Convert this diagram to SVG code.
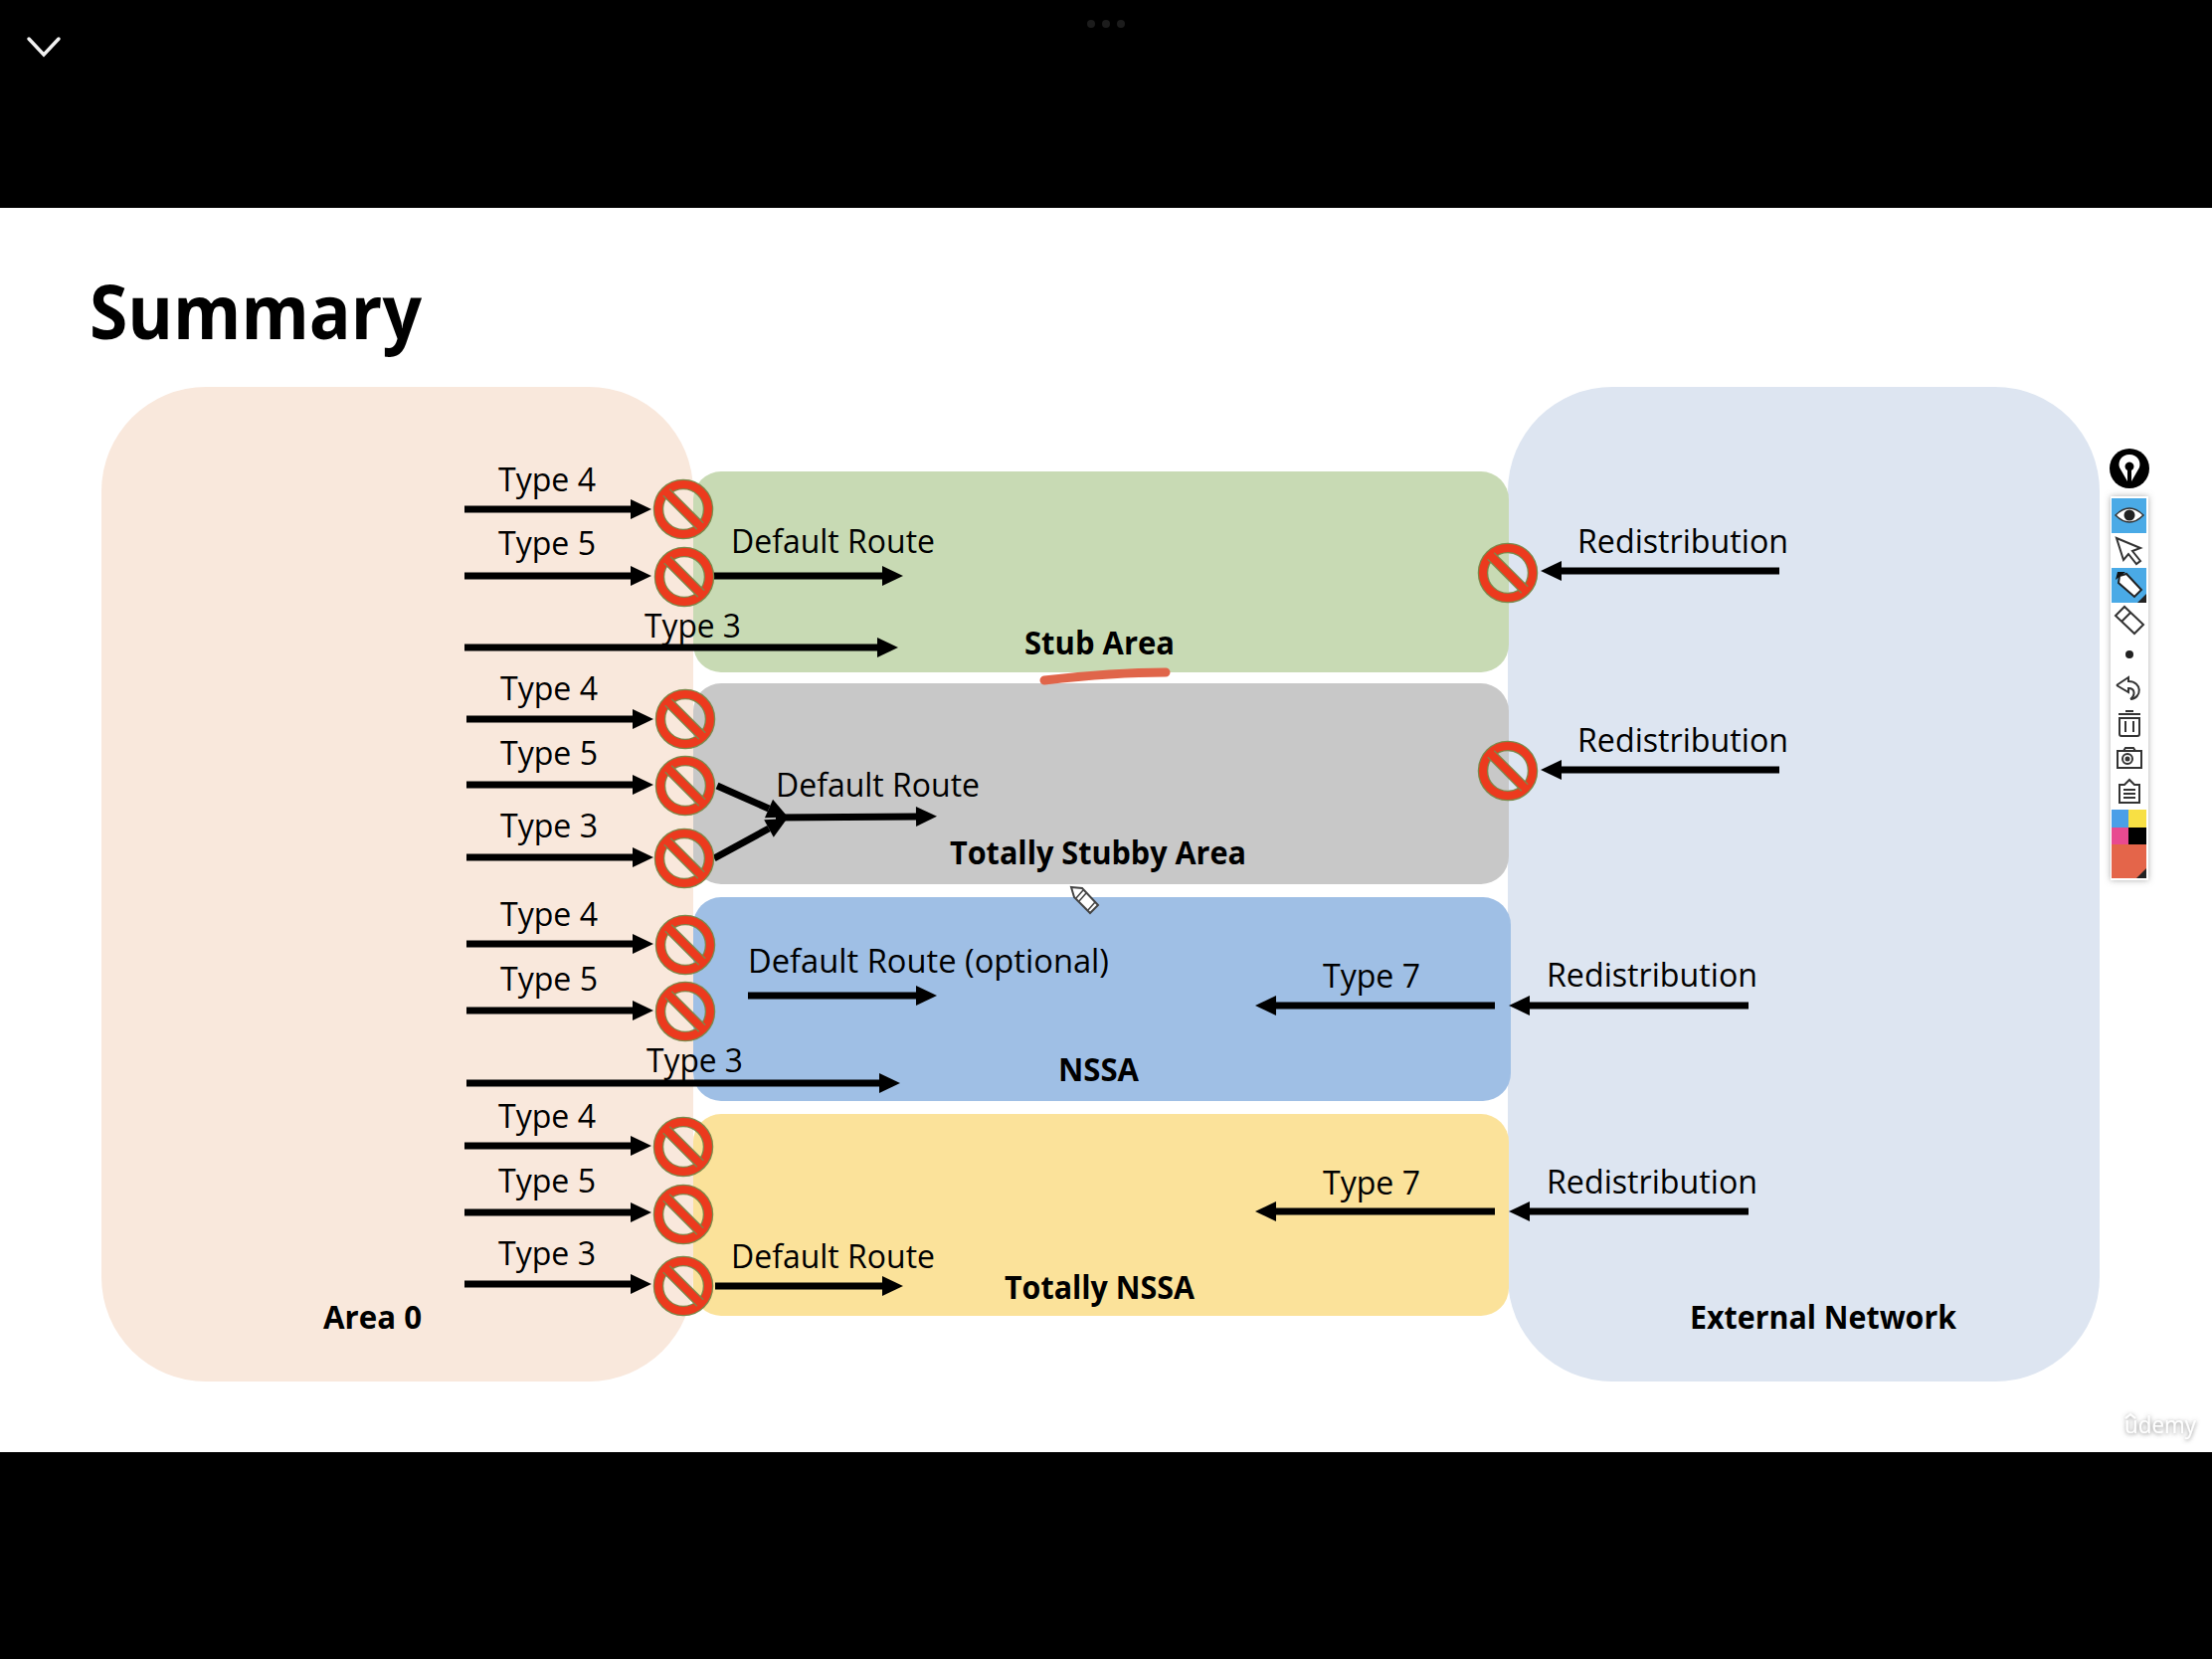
<svg xmlns="http://www.w3.org/2000/svg" xmlns:xlink="http://www.w3.org/1999/xlink" width="2224" height="1668" viewBox="0 0 2224 1668">
<style>
text{font-family:"Open Sans","Noto Sans","Liberation Sans",sans-serif;fill:#000}
.l{font-size:32px}
.b{font-size:32px;font-weight:700}
.c line,.c path.s{stroke:#000;stroke-width:7;fill:none;marker-end:url(#ah)}
.i{fill:none;stroke:#333;stroke-width:2}
</style>
<defs>
<marker id="ah" markerUnits="userSpaceOnUse" markerWidth="22" markerHeight="22" refX="0" refY="10.5" orient="auto" overflow="visible"><path d="M0,0.5 L21,10.5 L0,20.5 Z" fill="#000"/></marker>
<g id="ban"><circle r="25" fill="none" stroke="#7a8a4c" stroke-width="10.5"/><circle r="25" fill="none" stroke="#ec3a1e" stroke-width="8"/><line x1="-17" y1="-17" x2="17" y2="17" stroke="#7a8a4c" stroke-width="10.5"/><line x1="-19" y1="-19" x2="19" y2="19" stroke="#ec3a1e" stroke-width="8"/></g>
<filter id="sh" x="-20%" y="-40%" width="140%" height="180%"><feDropShadow dx="0" dy="1" stdDeviation="2" flood-color="#777" flood-opacity="0.9"/></filter>
<filter id="ts" x="-60%" y="-10%" width="220%" height="120%"><feDropShadow dx="0" dy="0" stdDeviation="3" flood-color="#777" flood-opacity="0.6"/></filter>
</defs>
<rect width="2224" height="1668" fill="#fff"/>
<rect id="top-bar" width="2224" height="209" fill="#000"/>
<rect id="bottom-bar" y="1460" width="2224" height="208" fill="#000"/>
<path id="chevron" d="M29,39 L44,55 L59,39" fill="none" stroke="#f2f2f2" stroke-width="3.5" stroke-linecap="round"/>
<g id="dots" fill="#1c1c1c"><circle cx="1097" cy="24" r="4"/><circle cx="1112" cy="24" r="4"/><circle cx="1127" cy="24" r="4"/></g>
<text id="title" x="90" y="341" font-size="75" font-weight="700" textLength="334" lengthAdjust="spacingAndGlyphs">Summary</text>

<g id="area0"><rect x="102" y="389" width="595" height="1000" rx="105" fill="#f9e8dc"/><text class="b" x="325" y="1336" textLength="99" lengthAdjust="spacingAndGlyphs">Area 0</text></g>
<g id="external"><rect x="1516" y="389" width="595" height="1000" rx="105" fill="#dde5f1"/><text class="b" x="1699" y="1336" textLength="268" lengthAdjust="spacingAndGlyphs">External Network</text></g>
<g id="stub"><rect x="697" y="474" width="820" height="202" rx="28" fill="#c8dab4"/><text class="b" x="1030" y="658" textLength="151" lengthAdjust="spacingAndGlyphs">Stub Area</text></g>
<g id="totally-stubby"><rect x="697" y="687" width="820" height="202" rx="28" fill="#c8c8c8"/><text class="b" x="955" y="869" textLength="298" lengthAdjust="spacingAndGlyphs">Totally Stubby Area</text></g>
<g id="nssa"><rect x="697" y="902" width="822" height="205" rx="28" fill="#9fbfe5"/><text class="b" x="1064" y="1087" textLength="81" lengthAdjust="spacingAndGlyphs">NSSA</text></g>
<g id="totally-nssa"><rect x="697" y="1120" width="820" height="203" rx="28" fill="#fbe29a"/><text class="b" x="1010" y="1306" textLength="191" lengthAdjust="spacingAndGlyphs">Totally NSSA</text></g>

<g id="connectors" class="c">
<line x1="467" y1="512" x2="634" y2="512"/>
<line x1="467" y1="579" x2="634" y2="579"/>
<line x1="716" y1="579" x2="887" y2="579"/>
<line x1="467" y1="651" x2="882" y2="651"/>
<line x1="1789" y1="574" x2="1570" y2="574"/>
<line x1="469" y1="723" x2="636" y2="723"/>
<line x1="469" y1="789" x2="636" y2="789"/>
<line x1="469" y1="862" x2="636" y2="862"/>
<line x1="721" y1="790" x2="773" y2="813"/>
<line x1="718" y1="863" x2="773" y2="833"/>
<line x1="780" y1="822" x2="921" y2="821"/>
<line x1="1789" y1="774" x2="1570" y2="774"/>
<line x1="469" y1="949" x2="636" y2="949"/>
<line x1="469" y1="1016" x2="636" y2="1016"/>
<line x1="469" y1="1089" x2="884" y2="1089"/>
<line x1="752" y1="1001" x2="921" y2="1001"/>
<line x1="1503" y1="1011" x2="1283" y2="1011"/>
<line x1="1758" y1="1011" x2="1538" y2="1011"/>
<line x1="467" y1="1152" x2="634" y2="1152"/>
<line x1="467" y1="1219" x2="634" y2="1219"/>
<line x1="467" y1="1291" x2="634" y2="1291"/>
<line x1="719" y1="1293" x2="887" y2="1293"/>
<line x1="1503" y1="1218" x2="1283" y2="1218"/>
<line x1="1758" y1="1218" x2="1538" y2="1218"/>
</g>

<g id="blocks">
<use xlink:href="#ban" href="#ban" x="687" y="512"/>
<use xlink:href="#ban" href="#ban" x="688" y="580"/>
<use xlink:href="#ban" href="#ban" x="689" y="723"/>
<use xlink:href="#ban" href="#ban" x="689" y="790"/>
<use xlink:href="#ban" href="#ban" x="688" y="863"/>
<use xlink:href="#ban" href="#ban" x="689" y="950"/>
<use xlink:href="#ban" href="#ban" x="689" y="1017"/>
<use xlink:href="#ban" href="#ban" x="687" y="1153"/>
<use xlink:href="#ban" href="#ban" x="687" y="1221"/>
<use xlink:href="#ban" href="#ban" x="687" y="1293"/>
<use xlink:href="#ban" href="#ban" x="1516" y="576"/>
<use xlink:href="#ban" href="#ban" x="1516" y="775"/>
</g>

<g id="labels" class="l" font-size="32">
<text class="l" x="501" y="494" textLength="98" lengthAdjust="spacingAndGlyphs">Type 4</text>
<text class="l" x="501" y="558" textLength="98" lengthAdjust="spacingAndGlyphs">Type 5</text>
<text class="l" x="648" y="641" textLength="97" lengthAdjust="spacingAndGlyphs">Type 3</text>
<text class="l" x="735" y="556" textLength="205" lengthAdjust="spacingAndGlyphs">Default Route</text>
<text class="l" x="1586" y="556" textLength="212" lengthAdjust="spacingAndGlyphs">Redistribution</text>
<text class="l" x="503" y="704" textLength="98" lengthAdjust="spacingAndGlyphs">Type 4</text>
<text class="l" x="503" y="769" textLength="98" lengthAdjust="spacingAndGlyphs">Type 5</text>
<text class="l" x="503" y="842" textLength="98" lengthAdjust="spacingAndGlyphs">Type 3</text>
<text class="l" x="780" y="801" textLength="205" lengthAdjust="spacingAndGlyphs">Default Route</text>
<text class="l" x="1586" y="756" textLength="212" lengthAdjust="spacingAndGlyphs">Redistribution</text>
<text class="l" x="503" y="931" textLength="98" lengthAdjust="spacingAndGlyphs">Type 4</text>
<text class="l" x="503" y="996" textLength="98" lengthAdjust="spacingAndGlyphs">Type 5</text>
<text class="l" x="650" y="1078" textLength="97" lengthAdjust="spacingAndGlyphs">Type 3</text>
<text class="l" x="752" y="978" textLength="363" lengthAdjust="spacingAndGlyphs">Default Route (optional)</text>
<text class="l" x="1330" y="993" textLength="98" lengthAdjust="spacingAndGlyphs">Type 7</text>
<text class="l" x="1555" y="992" textLength="212" lengthAdjust="spacingAndGlyphs">Redistribution</text>
<text class="l" x="501" y="1134" textLength="98" lengthAdjust="spacingAndGlyphs">Type 4</text>
<text class="l" x="501" y="1199" textLength="98" lengthAdjust="spacingAndGlyphs">Type 5</text>
<text class="l" x="501" y="1272" textLength="98" lengthAdjust="spacingAndGlyphs">Type 3</text>
<text class="l" x="735" y="1275" textLength="205" lengthAdjust="spacingAndGlyphs">Default Route</text>
<text class="l" x="1330" y="1201" textLength="98" lengthAdjust="spacingAndGlyphs">Type 7</text>
<text class="l" x="1555" y="1200" textLength="212" lengthAdjust="spacingAndGlyphs">Redistribution</text>
</g>

<path id="underline" d="M1050,684 C1085,680 1130,676 1172,676" fill="none" stroke="#e0654a" stroke-width="9" stroke-linecap="round"/>

<g id="pencil-cursor" transform="translate(1077,892)"><path d="M0,0 L11,1 L27,18 L19,26 L3,10 Z" fill="#fff" stroke="#444" stroke-width="2"/><path d="M5,11 L12,3 M8,14 L15,6 M17,23 L24,15" stroke="#444" stroke-width="1.5"/></g>

<g id="toolbar">
<circle cx="2141" cy="471" r="20" fill="#000"/>
<path d="M2141,457 C2133,457 2129,464 2131,470 L2139,484 L2139,473 A4.5,4.5 0 1 1 2143,473 L2143,484 L2151,470 C2153,464 2149,457 2141,457 Z" fill="#fff"/>
<rect x="2122" y="499" width="38" height="386" fill="#fff" filter="url(#ts)"/>
<rect x="2123" y="501" width="35" height="35" fill="#4aaae6"/>
<path d="M2127,518 Q2141,504 2155,518 Q2141,532 2127,518 Z" fill="#fff" stroke="#333" stroke-width="1.5"/><circle cx="2141" cy="518" r="5.5" fill="#222"/>
<path class="i" d="M2128,541 L2152,551 L2144,554 L2152,564 L2148,567 L2140,557 L2135,563 Z"/>
<rect x="2123" y="571" width="35" height="35" fill="#4aaae6"/>
<path d="M2131,579 L2138,577 L2153,593 L2146,600 L2130,586 Z" fill="#fff" stroke="#222" stroke-width="2"/><path d="M2127,583 L2129,575 L2137,575 L2132,579 Z" fill="#111"/><path d="M2158,606 L2158,597 L2149,606 Z" fill="#222"/>
<path class="i" d="M2127,619 L2136,610 L2155,628 L2146,637 Z M2133,625 L2142,616"/>
<circle cx="2141" cy="658" r="4" fill="#222"/>
<path class="i" d="M2128,689 L2140,681 L2140,685 C2154,685 2154,702 2142,703 M2128,689 L2140,696 L2140,692 C2147,692 2147,699 2142,703"/>
<path class="i" d="M2131,722 L2151,722 L2151,738 Q2151,740 2149,740 L2133,740 Q2131,740 2131,738 Z M2130,718 L2152,718 M2137,715 L2145,715 M2137,725 L2137,736 M2145,725 L2145,736"/>
<rect class="i" x="2129" y="755" width="24" height="17"/><path class="i" d="M2135,755 L2137,752 L2145,752 L2147,755"/><circle class="i" cx="2139" cy="763" r="5"/><circle cx="2139" cy="763" r="2.5" fill="#333"/>
<path class="i" d="M2131,789 L2136,789 L2141,784 L2146,789 L2151,789 L2151,807 L2131,807 Z M2135,794 L2147,794 M2135,798 L2147,798 M2135,802 L2147,802"/>
<rect x="2123" y="814" width="17" height="18" fill="#4a9fe8"/>
<rect x="2140" y="814" width="18" height="18" fill="#f8e044"/>
<rect x="2123" y="832" width="17" height="17" fill="#e84a90"/>
<rect x="2140" y="832" width="18" height="17" fill="#000"/>
<rect x="2123" y="849" width="35" height="34" fill="#e4654a"/>
<path d="M2158,883 L2158,873 L2148,883 Z" fill="#222"/>
</g>

<g id="watermark" filter="url(#sh)"><text x="2136" y="1441" font-size="23" style="fill:#fff" textLength="72" lengthAdjust="spacingAndGlyphs">udemy</text><path d="M2137,1426 L2142,1422 L2147,1426" fill="none" stroke="#fff" stroke-width="2"/></g>
</svg>
